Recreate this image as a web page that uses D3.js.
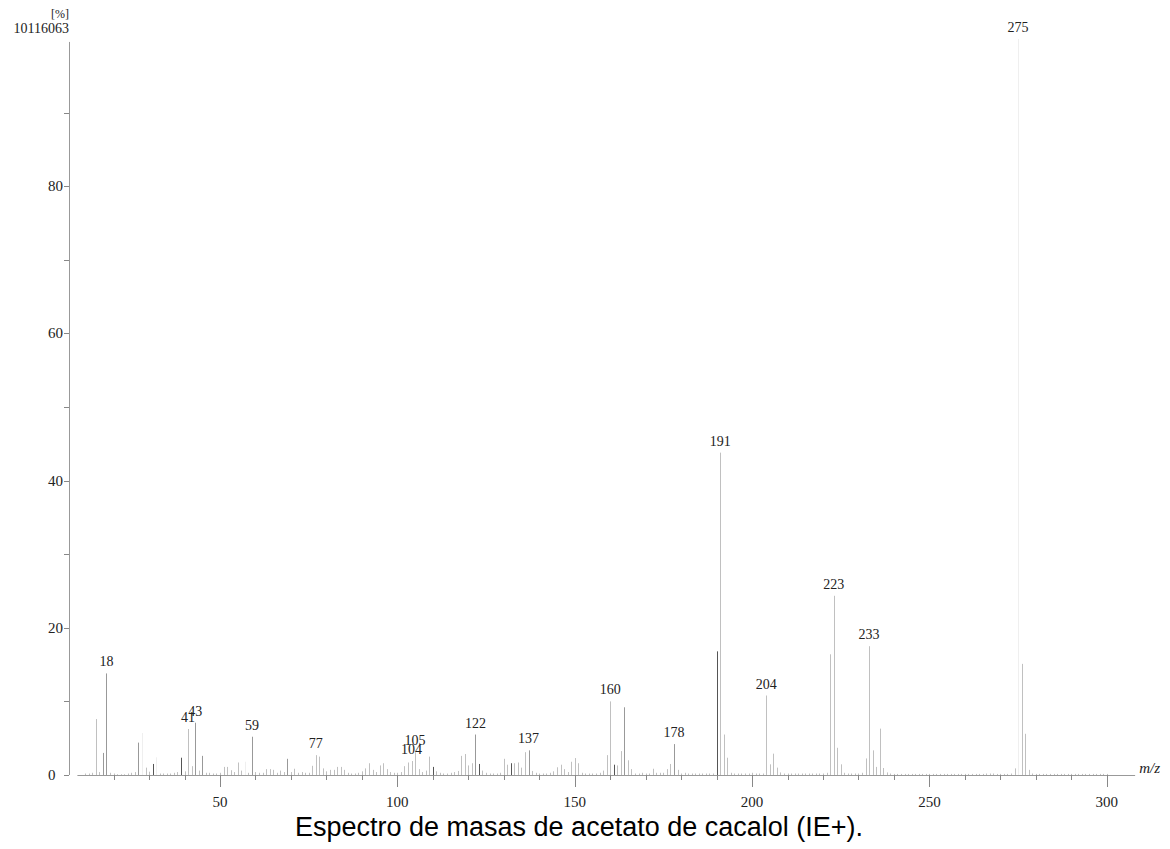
<!DOCTYPE html>
<html>
<head>
<meta charset="utf-8">
<title>Espectro de masas de acetato de cacalol</title>
<script src="https://cdnjs.cloudflare.com/ajax/libs/d3/7.8.5/d3.min.js"></script>
<style>
  body { margin: 0; background: #fff; }
  .lbl { font-family: "Liberation Serif", "DejaVu Serif", serif; font-size: 14px; fill: #222; }
  .ax { font-size: 15px; }
  .caption { font-family: "Liberation Sans", Arial, sans-serif; font-size: 27px; fill: #000; }
</style>
</head>
<body>
<svg id="chart" width="1170" height="849"></svg>
<script>
// peaks: [m/z, relative intensity %]
var peaks = [
  [12,0.2],[13,0.2],[14,0.3],[15,7.6],[16,0.4],[17,3.0],[18,13.8],[19,0.3],[20,0.2],[21,0.1],
  [22,0.1],[23,0.1],[24,0.2],[25,0.3],[26,0.4],[27,4.4],[28,5.7],[29,1.0],[30,0.45],[31,1.5],
  [32,2.4],[33,0.2],[34,0.2],[35,0.2],[36,0.2],[37,0.3],[38,0.4],[39,2.35],[40,0.5],[41,6.25],
  [42,1.2],[43,7.1],[44,0.6],[45,2.6],[46,0.3],[47,0.3],[48,0.2],[49,0.2],[50,0.3],[51,1.1],
  [52,1.1],[53,0.65],[54,0.4],[55,1.7],[56,0.6],[57,1.8],[58,0.3],[59,5.2],[60,0.4],[61,0.3],
  [62,0.3],[63,0.8],[64,0.8],[65,0.7],[66,0.3],[67,0.6],[68,0.4],[69,2.2],[70,0.4],[71,0.85],
  [72,0.3],[73,0.4],[74,0.3],[75,0.3],[76,1.25],[77,2.7],[78,2.5],[79,0.9],[80,0.5],[81,0.7],
  [82,0.7],[83,1.1],[84,1.1],[85,0.7],[86,0.3],[87,0.2],[88,0.2],[89,0.3],[90,0.5],[91,0.9],
  [92,1.6],[93,0.7],[94,0.4],[95,1.3],[96,1.6],[97,0.8],[98,0.4],[99,0.3],[100,0.3],[101,0.4],
  [102,1.2],[103,1.7],[104,1.9],[105,3.1],[106,0.8],[107,0.4],[108,0.6],[109,2.5],[110,1.1],[111,0.5],
  [112,0.3],[113,0.2],[114,0.2],[115,0.3],[116,0.4],[117,0.55],[118,2.6],[119,2.85],[120,1.3],[121,1.6],
  [122,5.5],[123,1.5],[124,0.6],[125,0.3],[126,0.2],[127,0.2],[128,0.2],[129,0.3],[130,2.2],[131,1.4],
  [132,1.6],[133,1.6],[134,1.7],[135,1.0],[136,3.1],[137,3.35],[138,0.55],[139,0.3],[140,0.2],[141,0.2],
  [142,0.2],[143,0.3],[144,0.5],[145,1.05],[146,1.4],[147,0.8],[148,0.4],[149,1.8],[150,2.3],[151,1.6],
  [152,0.3],[153,0.2],[154,0.2],[155,0.2],[156,0.2],[157,0.3],[158,0.6],[159,2.7],[160,10.0],[161,1.4],
  [162,1.3],[163,3.25],[164,9.2],[165,2.0],[166,0.8],[167,0.2],[168,0.2],[169,0.3],[170,0.2],[171,0.2],
  [172,0.85],[173,0.3],[174,0.3],[175,0.3],[176,0.8],[177,1.5],[178,4.2],[179,0.7],[180,0.2],[181,0.3],
  [182,0.2],[183,0.2],[184,0.2],[185,0.2],[186,0.2],[187,0.2],[188,0.2],[189,0.2],[190,16.8],[191,43.8],
  [192,5.5],[193,2.35],[194,0.3],[195,0.2],[196,0.2],[197,0.2],[198,0.2],[199,0.2],[200,0.3],[201,0.2],
  [202,0.2],[203,0.2],[204,10.8],[205,1.45],[206,2.9],[207,1.0],[208,0.35],[209,0.2],[210,0.2],[211,0.2],
  [212,0.2],[213,0.2],[214,0.2],[215,0.2],[216,0.2],[217,0.2],[218,0.2],[219,0.2],[220,0.2],[221,0.3],
  [222,16.4],[223,24.35],[224,3.7],[225,1.45],[226,0.3],[227,0.2],[228,0.2],[229,0.2],[230,0.2],[231,0.3],
  [232,2.25],[233,17.5],[234,3.35],[235,1.1],[236,6.3],[237,0.95],[238,0.35],[239,0.2],[240,0.15],[241,0.15],
  [242,0.15],[243,0.15],[244,0.15],[245,0.15],[246,0.15],[247,0.15],[248,0.15],[249,0.15],[250,0.15],[251,0.15],
  [252,0.15],[253,0.15],[254,0.15],[255,0.15],[256,0.15],[257,0.15],[258,0.15],[259,0.15],[260,0.15],[261,0.15],
  [262,0.15],[263,0.15],[264,0.15],[265,0.15],[266,0.2],[267,0.2],[268,0.2],[269,0.15],[270,0.15],[271,0.15],
  [272,0.15],[273,0.2],[274,0.9],[275,100],[276,15.1],[277,5.6],[278,0.7],[279,0.2],[280,0.15],[281,0.15],
  [282,0.15],[283,0.15],[284,0.15],[285,0.15],[286,0.15],[287,0.15],[288,0.15],[289,0.15],[290,0.15],[291,0.15],
  [292,0.15],[293,0.15],[294,0.15],[295,0.15],[296,0.15],[297,0.15],[298,0.15],[299,0.15],[300,0.15]
];

// peaks that carry an m/z label
var labelledMz = [18, 41, 43, 59, 77, 104, 105, 122, 137, 160, 178, 191, 204, 223, 233, 275];

// axis ticks
var xMinorTicks = [20,30,40,50,60,70,80,90,100,110,120,130,140,150,160,170,180,190,200,
                   210,220,230,240,250,260,270,280,290,300];
var xTickLabels = [50, 100, 150, 200, 250, 300];
var yMinorTicks = [0,10,20,30,40,50,60,70,80,90];
var yTickLabels = [0, 20, 40, 60, 80];
var baseIntensity = "10116063";

// line shades (the instrument draws some peaks darker than others)
var darkMz = [31, 39, 110, 123, 132, 161, 190];
var midMz = [17, 18, 27, 43, 45, 59, 69, 122, 137, 164, 178];
var faintMz = [28, 32, 57, 275];

var svg = d3.select("#chart");

var x = d3.scaleLinear().domain([9.8, 308]).range([42.65 + 9.8 * 3.547, 42.65 + 308 * 3.547]);
var y = d3.scaleLinear().domain([0, 100]).range([775, 39]);
var axisX = 69;

function shade(mz) {
  if (darkMz.indexOf(mz) >= 0) return "#555";
  if (midMz.indexOf(mz) >= 0) return "#999";
  if (faintMz.indexOf(mz) >= 0) return "#efefef";
  return "#c0c0c0";
}

// x axis
var gx = svg.append("g");
gx.append("line")
    .attr("x1", x.range()[0]).attr("x2", x.range()[1])
    .attr("y1", y(0) + 0.5).attr("y2", y(0) + 0.5)
    .attr("stroke", "#999");
gx.selectAll(".xt")
    .data(xMinorTicks)
  .enter().append("line")
    .attr("x1", function(d) { return Math.round(x(d)) + 0.5; })
    .attr("x2", function(d) { return Math.round(x(d)) + 0.5; })
    .attr("y1", y(0))
    .attr("y2", function(d) { return y(0) + (d % 50 === 0 ? 12 : 5); })
    .attr("stroke", "#888");
gx.selectAll(".xl")
    .data(xTickLabels)
  .enter().append("text")
    .attr("class", "lbl ax")
    .attr("x", function(d) { return x(d); })
    .attr("y", y(0) + 32)
    .attr("text-anchor", "middle")
    .text(function(d) { return d; });
svg.append("text")
    .attr("class", "lbl ax")
    .attr("x", x.range()[1] + 4)
    .attr("y", y(0) - 2)
    .style("font-style", "italic")
    .text("m/z");

// y axis
var gy = svg.append("g");
gy.append("line")
    .attr("x1", axisX + 0.5).attr("x2", axisX + 0.5)
    .attr("y1", y(0)).attr("y2", y(99.6))
    .attr("stroke", "#999");
gy.selectAll(".yt")
    .data(yMinorTicks)
  .enter().append("line")
    .attr("x1", axisX - 5).attr("x2", axisX)
    .attr("y1", function(d) { return Math.round(y(d)) + 0.5; })
    .attr("y2", function(d) { return Math.round(y(d)) + 0.5; })
    .attr("stroke", "#888");
gy.selectAll(".yl")
    .data(yTickLabels)
  .enter().append("text")
    .attr("class", "lbl ax")
    .attr("x", axisX - 21)
    .attr("y", function(d) { return y(d) + 5; })
    .attr("text-anchor", "start")
    .text(function(d) { return d; });
svg.append("text")
    .attr("class", "lbl")
    .attr("x", axisX)
    .attr("y", y(100) - 6)
    .attr("text-anchor", "end")
    .text(baseIntensity);
svg.append("text")
    .attr("class", "lbl")
    .attr("x", axisX)
    .attr("y", y(100) - 21)
    .attr("text-anchor", "end")
    .style("font-size", "12px")
    .text("[%]");

// the stick spectrum
svg.append("g").selectAll("line")
    .data(peaks)
  .enter().append("line")
    .attr("x1", function(d) { return Math.round(x(d[0])) + 0.5; })
    .attr("x2", function(d) { return Math.round(x(d[0])) + 0.5; })
    .attr("y1", y(0))
    .attr("y2", function(d) { return y(d[1]); })
    .attr("stroke", function(d) { return shade(d[0]); })
    .attr("stroke-width", 1);

// peak labels
var labelled = peaks.filter(function(d) { return labelledMz.indexOf(d[0]) >= 0; });
svg.append("g").selectAll("text")
    .data(labelled)
  .enter().append("text")
    .attr("class", "lbl")
    .attr("x", function(d) { return x(d[0]); })
    .attr("y", function(d) { return y(d[1]) - 7; })
    .attr("text-anchor", "middle")
    .text(function(d) { return d[0]; });

// caption
svg.append("text")
    .attr("class", "caption")
    .attr("x", 579)
    .attr("y", 836)
    .attr("text-anchor", "middle")
    .text("Espectro de masas de acetato de cacalol (IE+).");
</script>
</body>
</html>
